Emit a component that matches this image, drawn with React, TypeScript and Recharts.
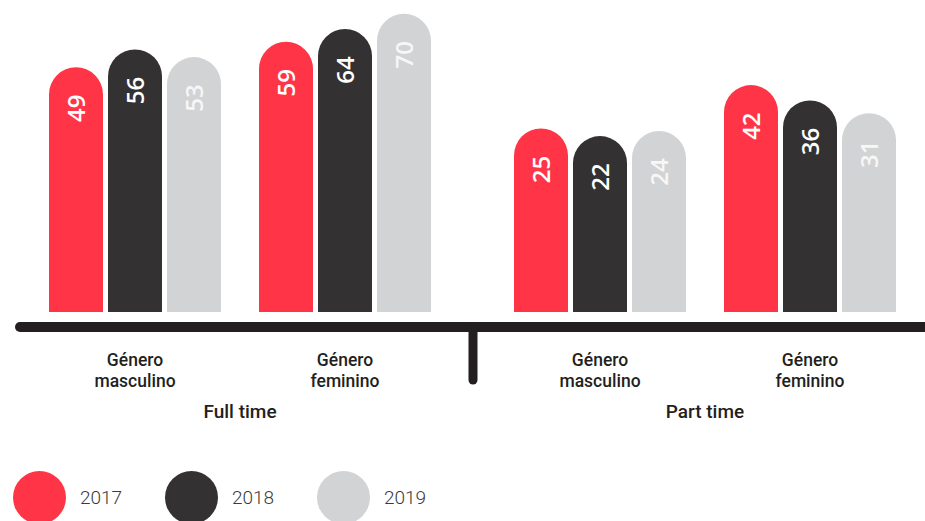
import React from 'react';
import { BarChart, Bar, XAxis, YAxis, LabelList } from 'recharts';

const CATEGORIES = ['Género masculino', 'Género feminino'];
const GROUPS = ['Full time', 'Part time'];
const YEARS = ['2017', '2018', '2019'];
const COLORS = ['#ff3547', '#333132', '#d2d3d5'];

const FULL_2017 = [49, 59];
const FULL_2018 = [56, 64];
const FULL_2019 = [53, 70];
const PART_2017 = [25, 42];
const PART_2018 = [22, 36];
const PART_2019 = [24, 31];

// the bars in the original start well below zero, so the axis floor sits at -47
const FLOOR = -47;
const CEIL = 75;

const build = (a: number[], b: number[], c: number[]) =>
  CATEGORIES.map((name, i) => ({ name, y2017: a[i], y2018: b[i], y2019: c[i] }));

const fullData = build(FULL_2017, FULL_2018, FULL_2019);
const partData = build(PART_2017, PART_2018, PART_2019);

const ValueLabel = (props: any) => {
  const { x, y, width, value, fill } = props;
  const cx = x + width / 2;
  const cy = y + 41;
  return (
    <text
      x={cx}
      y={cy}
      transform={`rotate(-90 ${cx} ${cy})`}
      textAnchor="middle"
      dominantBaseline="central"
      fill={fill}
      fontFamily="'Open Sans', sans-serif"
      fontSize={24}
      fontWeight={600}
    >
      {value}
    </text>
  );
};

// two-line category label kept in one text element
const CategoryTick = ({ x, y, payload }: any) => {
  const lines = String(payload.value).split(' ');
  return (
    <text
      x={x}
      y={y + 54}
      textAnchor="middle"
      fill="#231f20"
      fontFamily="Roboto, sans-serif"
      fontSize={17.5}
      fontWeight={500}
    >
      {lines.map((l, i) => (
        <tspan key={i} x={x} dy={i === 0 ? 0 : 20.5}>
          {l}
        </tspan>
      ))}
    </text>
  );
};

function Panel({ data, group, width, margin }: any) {
  return (
    <BarChart width={width} height={521} data={data} margin={margin} barSize={54} barGap={5}>
      <XAxis
        dataKey="name"
        axisLine={false}
        tickLine={false}
        tickSize={0}
        tickMargin={0}
        height={110}
        interval={0}
        tick={<CategoryTick />}
        label={{
          value: group,
          position: 'insideBottom',
          offset: 4,
          fill: '#231f20',
          fontFamily: 'Roboto, sans-serif',
          fontSize: 19,
          fontWeight: 500,
        }}
      />
      <YAxis hide domain={[FLOOR, CEIL]} allowDataOverflow />
      {YEARS.map((yr, i) => (
        <Bar
          key={yr}
          name={yr}
          dataKey={(d: any) => [FLOOR, d['y' + yr]]}
          fill={COLORS[i]}
          radius={[27, 27, 0, 0]}
          isAnimationActive={false}
        >
          <LabelList dataKey={'y' + yr} content={(p: any) => <ValueLabel {...p} fill={i === 2 ? '#f7f7f7' : '#ffffff'} />} />
        </Bar>
      ))}
    </BarChart>
  );
}

export default function App() {
  return (
    <div style={{ position: 'absolute', left: 0, top: 0, width: 925, height: 521, background: '#fff', overflow: 'hidden' }}>
      <div style={{ position: 'absolute', left: 0, top: 0 }}>
        <Panel data={fullData} group={GROUPS[0]} width={470} margin={{ top: 1, right: 20, left: 30, bottom: 99 }} />
      </div>
      <div style={{ position: 'absolute', left: 470, top: 0 }}>
        <Panel data={partData} group={GROUPS[1]} width={455} margin={{ top: 1, right: 10, left: 25, bottom: 99 }} />
      </div>
      <svg width={925} height={521} style={{ position: 'absolute', left: 0, top: 0, pointerEvents: 'none' }}>
        <line x1={20} y1={327} x2={940} y2={327} stroke="#231f20" strokeWidth={10} strokeLinecap="round" />
        <line x1={473} y1={327} x2={473} y2={380} stroke="#231f20" strokeWidth={9} strokeLinecap="round" />
      </svg>
      <div style={{ position: 'absolute', left: 13, top: 471, display: 'flex' }}>
        {YEARS.map((yr, i) => (
          <div key={yr} style={{ display: 'flex', alignItems: 'center', width: 152 }}>
            <div style={{ width: 53, height: 53, borderRadius: '50%', background: COLORS[i] }} />
            <span
              style={{
                marginLeft: 14,
                fontFamily: 'Roboto, sans-serif',
                fontWeight: 300,
                fontSize: 19,
                color: '#3a3a3a',
              }}
            >
              {yr}
            </span>
          </div>
        ))}
      </div>
    </div>
  );
}
